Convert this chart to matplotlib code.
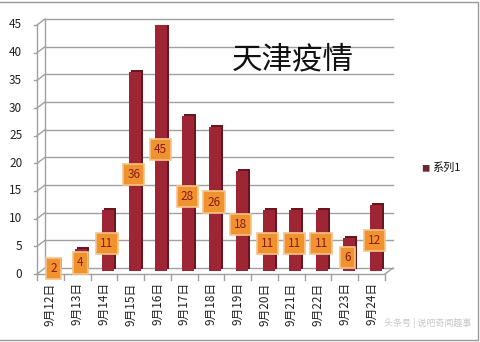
import numpy as np
import matplotlib
matplotlib.use("Agg")
import matplotlib.pyplot as plt
from matplotlib.transforms import ScaledTranslation

plt.rcParams['font.family'] = ['Noto Sans CJK SC', 'DejaVu Sans']

days = ["9月12日", "9月13日", "9月14日", "9月15日", "9月16日", "9月17日", "9月18日",
        "9月19日", "9月20日", "9月21日", "9月22日", "9月23日", "9月24日"]
cases = [2, 4, 11, 36, 45, 28, 26, 18, 11, 11, 11, 6, 12]
yticks = [0, 5, 10, 15, 20, 25, 30, 35, 40, 45]

DPI = 100
fig = plt.figure(figsize=(4.8, 3.42), dpi=DPI)
ax = fig.add_axes([37 / 480, 1 - 274 / 342, 348 / 480, 249 / 342])
x = np.arange(len(days))
ax.set_xlim(-0.5, len(days) - 0.5)
ax.set_ylim(0, 45)
ax.axis("off")


def shift(px, py):
    return ax.transData + ScaledTranslation(px / DPI, py / DPI, fig.dpi_scale_trans)


grid_c = "#a0a0a0"
back = shift(8, 6)
x0, x1 = -0.5, len(days) - 0.5
# back wall gridlines + slanted side wall edges
for v in yticks:
    ax.plot([x0, x1], [v, v], color=grid_c, lw=1.0, transform=back, clip_on=False)
    ax.annotate("", xy=(x0, v), xycoords=back, xytext=(x0, v), textcoords="data",
                arrowprops=dict(arrowstyle="-", color=grid_c, lw=1.0, shrinkA=0, shrinkB=0))
# front axis and floor edges
ax.plot([x0, x0], [0, 45], color=grid_c, lw=1.0, clip_on=False)
ax.plot([x0, x1], [0, 0], color=grid_c, lw=1.0, clip_on=False)
ax.plot([x0, x0], [0, 45], color=grid_c, lw=1.0, transform=back, clip_on=False)
ax.annotate("", xy=(x1, 0), xycoords=back, xytext=(x1, 0), textcoords="data",
            arrowprops=dict(arrowstyle="-", color=grid_c, lw=1.0, shrinkA=0, shrinkB=0))
for v in yticks:
    ax.plot([x0 - 0.12, x0], [v, v], color=grid_c, lw=1.0, clip_on=False)
    ax.text(x0 - 0.55, v, str(v), ha="right", va="center", fontsize=8.5, color="#222222")
for i in range(len(days) + 1):
    ax.plot([i - 0.5, i - 0.5], [0, -1.0], color=grid_c, lw=1.0, clip_on=False)

# bars: dark side/top face behind, front face on top
ax.bar(x, cases, width=0.45, color="#6a1620", transform=shift(6, 5), zorder=3)
ax.bar(x, cases, width=0.45, color="#9e2634", transform=shift(4, 3), zorder=4)

for xi, v in zip(x, cases):
    ax.text(xi, v / 2, str(v), ha="center", va="center", fontsize=8.5, color="#8b1a1a",
            zorder=6, transform=shift(3, 0),
            bbox=dict(boxstyle="square,pad=0.35", fc="#f0922e", ec="#f7c48a", lw=1.2))

for xi, d in zip(x, days):
    ax.text(xi, -1.5, d, rotation=90, ha="center", va="top", fontsize=8.5, color="#222222")

ax.text(293 / 480, 1 - 60 / 342, "天津疫情", transform=fig.transFigure, ha="center", va="center",
        fontsize=22, color="#111111", zorder=7)

# legend
fig.text(425 / 480, 1 - 169 / 342, "■", color="#6b2a30", fontsize=6, ha="center", va="center")
fig.text(432 / 480, 1 - 168 / 342, "系列1", fontsize=8, ha="left", va="center", color="#111111")

# watermark
fig.text(384 / 480, 1 - 323 / 342, "头条号 | 说吧奇闻趣事", fontsize=6.5, ha="left", va="center",
         color="#c8c8c8")

# outer frame
fig.add_artist(plt.Line2D([0, 478 / 480, 478 / 480, 0], [1 - 2 / 342, 1 - 2 / 342, 1 - 340 / 342, 1 - 340 / 342],
                          color="#9a9a9a", lw=1.0))

fig.savefig("out.png", dpi=DPI)
